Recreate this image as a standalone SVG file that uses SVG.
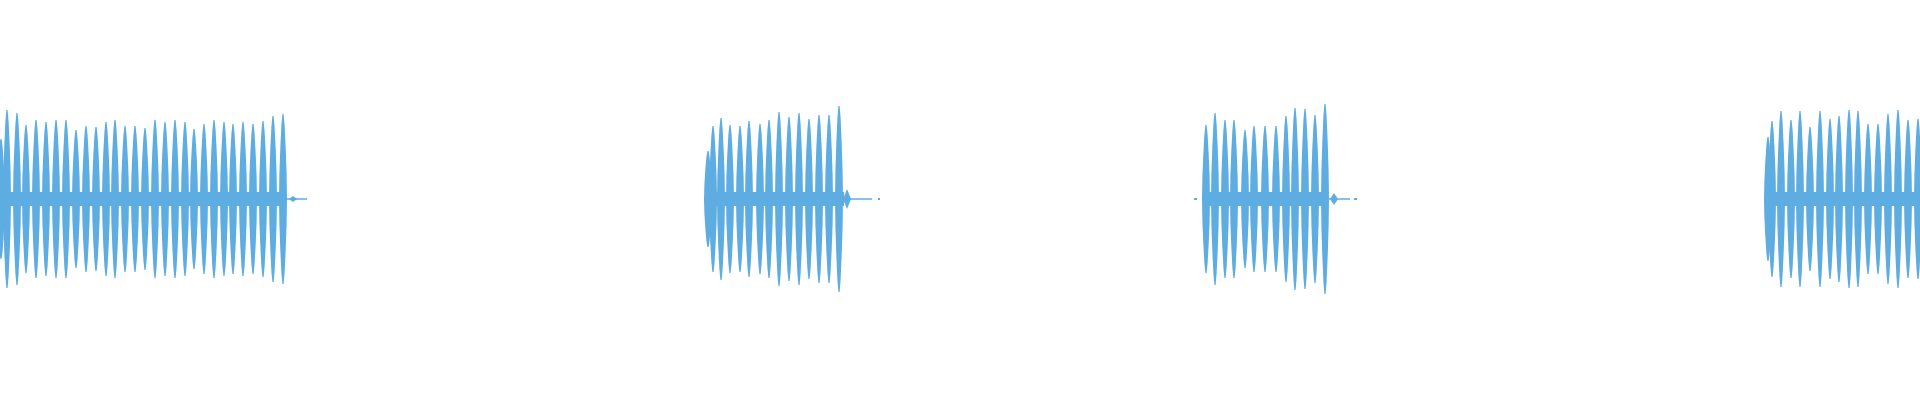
<svg xmlns="http://www.w3.org/2000/svg" width="1920" height="400" viewBox="0 0 1920 400">
<style>.w{fill:#5dade2}.t{stroke:#5dade2;stroke-width:1.5;fill:none}</style>
<defs>
<path id="s" d="M-4,0 L-3.6,-0.3 L-2.7,-0.6 L-1.6,-0.87 L-0.6,-1 L0.6,-1 L1.6,-0.87 L2.7,-0.6 L3.6,-0.3 L4,0 L3.6,0.3 L2.7,0.6 L1.6,0.87 L0.6,1 L-0.6,1 L-1.6,0.87 L-2.7,0.6 L-3.6,0.3 Z"/>
<path id="d" d="M-4,0 L0,-1 L4,0 L0,1 Z"/>
</defs>
<rect width="1920" height="400" fill="#fff"/>
<g id="burst1" class="w">
<rect x="0" y="192" width="286" height="14"/>
<use href="#s" transform="translate(1,199) scale(1,60)"/>
<use href="#s" transform="translate(7,199) scale(1,89)"/>
<use href="#s" transform="translate(17,199) scale(1,86)"/>
<use href="#s" transform="translate(26,199) scale(1,74)"/>
<use href="#s" transform="translate(36,199) scale(1,79)"/>
<use href="#s" transform="translate(46,199) scale(1,77)"/>
<use href="#s" transform="translate(56,199) scale(1,79)"/>
<use href="#s" transform="translate(66,199) scale(1,79)"/>
<use href="#s" transform="translate(76,199) scale(1,69)"/>
<use href="#s" transform="translate(86,199) scale(1,73)"/>
<use href="#s" transform="translate(96,199) scale(1,72)"/>
<use href="#s" transform="translate(106,199) scale(1,77)"/>
<use href="#s" transform="translate(115,199) scale(1,79)"/>
<use href="#s" transform="translate(125,199) scale(1,73)"/>
<use href="#s" transform="translate(135,199) scale(1,73)"/>
<use href="#s" transform="translate(145,199) scale(1,71)"/>
<use href="#s" transform="translate(155,199) scale(1,79)"/>
<use href="#s" transform="translate(165,199) scale(1,77)"/>
<use href="#s" transform="translate(175,199) scale(1,79)"/>
<use href="#s" transform="translate(185,199) scale(1,77)"/>
<use href="#s" transform="translate(194,199) scale(1,70)"/>
<use href="#s" transform="translate(204,199) scale(1,75)"/>
<use href="#s" transform="translate(214,199) scale(1,79)"/>
<use href="#s" transform="translate(224,199) scale(1,77)"/>
<use href="#s" transform="translate(233,199) scale(1,75)"/>
<use href="#s" transform="translate(243,199) scale(1,77)"/>
<use href="#s" transform="translate(253,199) scale(1,75)"/>
<use href="#s" transform="translate(263,199) scale(1,78)"/>
<use href="#s" transform="translate(273,199) scale(1,83)"/>
<use href="#s" transform="translate(283,199) scale(1,85)"/>
<use href="#d" transform="translate(293,199) scale(1,3)"/>
<line class="t" x1="286" y1="199" x2="307" y2="199"/>
</g>
<g id="burst2" class="w">
<rect x="706" y="192" width="138" height="14"/>
<use href="#s" transform="translate(708,199) scale(1,48)"/>
<use href="#s" transform="translate(713,199) scale(1,73)"/>
<use href="#s" transform="translate(721,199) scale(1,81)"/>
<use href="#s" transform="translate(730,199) scale(1,74)"/>
<use href="#s" transform="translate(740,199) scale(1,73)"/>
<use href="#s" transform="translate(749,199) scale(1,78)"/>
<use href="#s" transform="translate(760,199) scale(1,75)"/>
<use href="#s" transform="translate(769,199) scale(1,79)"/>
<use href="#s" transform="translate(779,199) scale(1,87)"/>
<use href="#s" transform="translate(789,199) scale(1,82)"/>
<use href="#s" transform="translate(799,199) scale(1,86)"/>
<use href="#s" transform="translate(809,199) scale(1,80)"/>
<use href="#s" transform="translate(819,199) scale(1,84)"/>
<use href="#s" transform="translate(829,199) scale(1,84)"/>
<use href="#s" transform="translate(839,199) scale(1,93)"/>
<use href="#d" transform="translate(847,199) scale(1,10)"/>
<line class="t" x1="844" y1="199" x2="872" y2="199"/>
<rect x="878" y="198" width="2" height="2"/>
</g>
<g id="burst3" class="w">
<rect x="1194" y="198" width="3" height="2"/>
<rect x="1203" y="192" width="125" height="14"/>
<use href="#s" transform="translate(1206,199) scale(1,74)"/>
<use href="#s" transform="translate(1215,199) scale(1,86)"/>
<use href="#s" transform="translate(1225,199) scale(1,79)"/>
<use href="#s" transform="translate(1234,199) scale(1,79)"/>
<use href="#s" transform="translate(1245,199) scale(1,69)"/>
<use href="#s" transform="translate(1254,199) scale(1,73)"/>
<use href="#s" transform="translate(1265,199) scale(1,73)"/>
<use href="#s" transform="translate(1276,199) scale(1,73)"/>
<use href="#s" transform="translate(1286,199) scale(1,83)"/>
<use href="#s" transform="translate(1295,199) scale(1,91)"/>
<use href="#s" transform="translate(1305,199) scale(1,90)"/>
<use href="#s" transform="translate(1315,199) scale(1,84)"/>
<use href="#s" transform="translate(1325,199) scale(1,95)"/>
<use href="#d" transform="translate(1334,199) scale(1,6)"/>
<line class="t" x1="1328" y1="199" x2="1350" y2="199"/>
<rect x="1354" y="198" width="3" height="2"/>
</g>
<g id="burst4" class="w">
<rect x="1765" y="192" width="155" height="14"/>
<use href="#s" transform="translate(1768,199) scale(1,62)"/>
<use href="#s" transform="translate(1772,199) scale(1,78)"/>
<use href="#s" transform="translate(1781,199) scale(1,88)"/>
<use href="#s" transform="translate(1791,199) scale(1,79)"/>
<use href="#s" transform="translate(1800,199) scale(1,88)"/>
<use href="#s" transform="translate(1810,199) scale(1,72)"/>
<use href="#s" transform="translate(1820,199) scale(1,88)"/>
<use href="#s" transform="translate(1830,199) scale(1,80)"/>
<use href="#s" transform="translate(1839,199) scale(1,83)"/>
<use href="#s" transform="translate(1849,199) scale(1,89)"/>
<use href="#s" transform="translate(1858,199) scale(1,88)"/>
<use href="#s" transform="translate(1868,199) scale(1,75)"/>
<use href="#s" transform="translate(1878,199) scale(1,75)"/>
<use href="#s" transform="translate(1888,199) scale(1,85)"/>
<use href="#s" transform="translate(1898,199) scale(1,89)"/>
<use href="#s" transform="translate(1908,199) scale(1,79)"/>
<use href="#s" transform="translate(1918,199) scale(1,80)"/>
</g>
</svg>
